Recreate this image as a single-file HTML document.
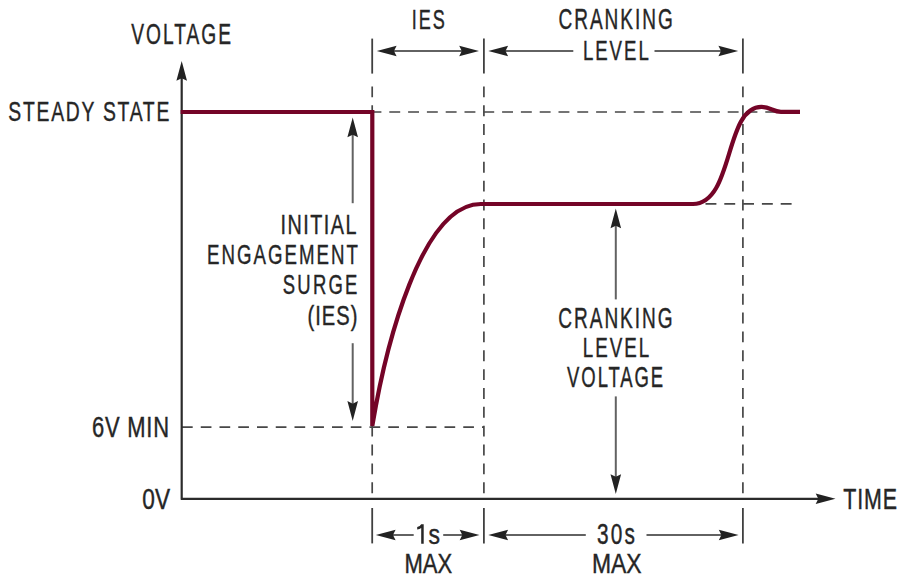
<!DOCTYPE html>
<html><head><meta charset="utf-8"><style>
html,body{margin:0;padding:0;background:#fff;}
svg{display:block;}
text{font-family:"Liberation Sans",sans-serif;font-size:28.2px;fill:#262626;stroke:#262626;stroke-width:0.42px;}
</style></head><body>
<svg width="900" height="578" viewBox="0 0 900 578">
<rect width="900" height="578" fill="#fff"/>
<line x1="370.5" y1="112" x2="776" y2="112" stroke="#474747" stroke-width="1.7" stroke-dasharray="10.9 7.9"/>
<line x1="182" y1="427.2" x2="484" y2="427.2" stroke="#474747" stroke-width="1.7" stroke-dasharray="10.7 8.05"/>
<line x1="686.7" y1="203.8" x2="792.5" y2="203.8" stroke="#474747" stroke-width="1.7" stroke-dasharray="10.9 7.9"/>
<line x1="372.2" y1="38.6" x2="372.2" y2="73.6" stroke="#404040" stroke-width="1.8" />
<line x1="372.2" y1="86.4" x2="372.2" y2="494" stroke="#474747" stroke-width="1.7" stroke-dasharray="10.9 7.95"/>
<line x1="372.2" y1="508" x2="372.2" y2="543.4" stroke="#404040" stroke-width="1.8" />
<line x1="483.9" y1="38.6" x2="483.9" y2="73.6" stroke="#404040" stroke-width="1.8" />
<line x1="483.9" y1="86.4" x2="483.9" y2="494" stroke="#474747" stroke-width="1.7" stroke-dasharray="10.9 7.95"/>
<line x1="483.9" y1="508" x2="483.9" y2="543.4" stroke="#404040" stroke-width="1.8" />
<line x1="742.9" y1="38.6" x2="742.9" y2="73.6" stroke="#404040" stroke-width="1.8" />
<line x1="742.9" y1="86.4" x2="742.9" y2="494" stroke="#474747" stroke-width="1.7" stroke-dasharray="10.9 7.95"/>
<line x1="742.9" y1="508" x2="742.9" y2="543.4" stroke="#404040" stroke-width="1.8" />
<line x1="181.7" y1="78" x2="181.7" y2="499.8" stroke="#2b2b2b" stroke-width="2.2" />
<path d="M181.70,61.00 L187.00,80.80 L181.70,78.20 L176.40,80.80 Z" fill="#222"/>
<line x1="181" y1="498.8" x2="820" y2="498.8" stroke="#2b2b2b" stroke-width="2.2" />
<path d="M835.50,498.80 L815.70,504.10 L818.30,498.80 L815.70,493.50 Z" fill="#222"/>
<path d="M180.6,112.0 H372.3 V426 C385.9,344.3 421.5,204 480.8,204 H693 C734.1,203.7 724.1,106.9 761.4,106.9 C770.5,106.9 773,111.8 781,111.8 H800" fill="none" stroke="#740427" stroke-width="4.2" stroke-linejoin="miter"/>
<line x1="391.8" y1="51.0" x2="464" y2="51.0" stroke="#626262" stroke-width="2.0" />
<path d="M376.80,51.00 L396.60,45.70 L394.00,51.00 L396.60,56.30 Z" fill="#222"/>
<path d="M479.00,51.00 L459.20,56.30 L461.80,51.00 L459.20,45.70 Z" fill="#222"/>
<line x1="503.3" y1="51.0" x2="573.3" y2="51.0" stroke="#626262" stroke-width="2.0" />
<line x1="654.5" y1="51.0" x2="723.2" y2="51.0" stroke="#626262" stroke-width="2.0" />
<path d="M488.30,51.00 L508.10,45.70 L505.50,51.00 L508.10,56.30 Z" fill="#222"/>
<path d="M738.20,51.00 L718.40,56.30 L721.00,51.00 L718.40,45.70 Z" fill="#222"/>
<line x1="390.8" y1="535.0" x2="413.7" y2="535.0" stroke="#626262" stroke-width="2.0" />
<line x1="443.2" y1="535.0" x2="464.5" y2="535.0" stroke="#626262" stroke-width="2.0" />
<path d="M375.80,535.00 L395.60,529.70 L393.00,535.00 L395.60,540.30 Z" fill="#222"/>
<path d="M479.50,535.00 L459.70,540.30 L462.30,535.00 L459.70,529.70 Z" fill="#222"/>
<line x1="503.3" y1="535.0" x2="585.8" y2="535.0" stroke="#626262" stroke-width="2.0" />
<line x1="646.5" y1="535.0" x2="723.6" y2="535.0" stroke="#626262" stroke-width="2.0" />
<path d="M488.30,535.00 L508.10,529.70 L505.50,535.00 L508.10,540.30 Z" fill="#222"/>
<path d="M738.60,535.00 L718.80,540.30 L721.40,535.00 L718.80,529.70 Z" fill="#222"/>
<line x1="352.7" y1="133" x2="352.7" y2="203.2" stroke="#626262" stroke-width="2.0" />
<path d="M352.70,117.50 L358.00,137.30 L352.70,134.70 L347.40,137.30 Z" fill="#222"/>
<line x1="352.7" y1="343.2" x2="352.7" y2="405" stroke="#626262" stroke-width="2.0" />
<path d="M352.70,420.90 L347.40,401.10 L352.70,403.70 L358.00,401.10 Z" fill="#222"/>
<line x1="615.8" y1="223" x2="615.8" y2="299.4" stroke="#626262" stroke-width="2.0" />
<path d="M615.80,208.50 L621.10,228.30 L615.80,225.70 L610.50,228.30 Z" fill="#222"/>
<line x1="615.8" y1="396.4" x2="615.8" y2="479" stroke="#626262" stroke-width="2.0" />
<path d="M615.80,494.00 L610.50,474.20 L615.80,476.80 L621.10,474.20 Z" fill="#222"/>
<text style="font-size:29.33px" letter-spacing="3.049" transform="translate(131.20,43.50) scale(0.6545,1)">VOLTAGE</text>
<text style="font-size:28.20px" letter-spacing="2.564" transform="translate(8.30,121.30) scale(0.6854,1)">STEADY STATE</text>
<text style="font-size:28.20px" letter-spacing="3.099" transform="translate(411.70,29.20) scale(0.6408,1)">IES</text>
<text style="font-size:29.33px" letter-spacing="3.015" transform="translate(558.50,29.20) scale(0.6498,1)">CRANKING</text>
<text style="font-size:28.20px" letter-spacing="2.993" transform="translate(582.90,60.30) scale(0.6606,1)">LEVEL</text>
<text style="font-size:28.20px" letter-spacing="2.173" transform="translate(280.40,233.80) scale(0.7014,1)">INITIAL</text>
<text style="font-size:28.20px" letter-spacing="3.039" transform="translate(207.00,264.10) scale(0.6617,1)">ENGAGEMENT</text>
<text style="font-size:28.20px" letter-spacing="3.419" transform="translate(282.80,294.30) scale(0.6547,1)">SURGE</text>
<text style="font-size:28.20px" letter-spacing="1.397" transform="translate(307.60,324.90) scale(0.7132,1)">(IES)</text>
<text style="font-size:29.33px" letter-spacing="1.029" transform="translate(92.00,436.60) scale(0.7491,1)">6V MIN</text>
<text style="font-size:29.33px" letter-spacing="0.000" transform="translate(142.30,508.80) scale(0.7723,1)">0V</text>
<text style="font-size:29.33px" letter-spacing="3.015" transform="translate(558.30,327.60) scale(0.6498,1)">CRANKING</text>
<text style="font-size:28.20px" letter-spacing="2.993" transform="translate(582.70,357.40) scale(0.6666,1)">LEVEL</text>
<text style="font-size:29.33px" letter-spacing="3.049" transform="translate(567.10,386.90) scale(0.6303,1)">VOLTAGE</text>
<text style="font-size:29.33px" letter-spacing="1.229" transform="translate(843.20,508.80) scale(0.7308,1)">TIME</text>
<text style="font-size:28.20px" letter-spacing="0.000" transform="translate(428.50,543.80) scale(0.8156,1)">s</text>
<text style="font-size:28.20px" letter-spacing="0.000" transform="translate(404.40,573.30) scale(0.7822,1)">MAX</text>
<text style="font-size:29.33px" letter-spacing="3.223" transform="translate(596.90,543.80) scale(0.7092,1)">30s</text>
<text style="font-size:28.20px" letter-spacing="0.000" transform="translate(591.90,573.40) scale(0.8133,1)">MAX</text>
<path d="M421.2,524.3 L423.7,524.3 L423.7,543.7 L421.2,543.7 L421.2,528.0 Q419.8,529.2 417.2,529.6 L417.2,527.0 Q420.2,526.6 421.2,524.3 Z" fill="#262626"/>
</svg></body></html>
